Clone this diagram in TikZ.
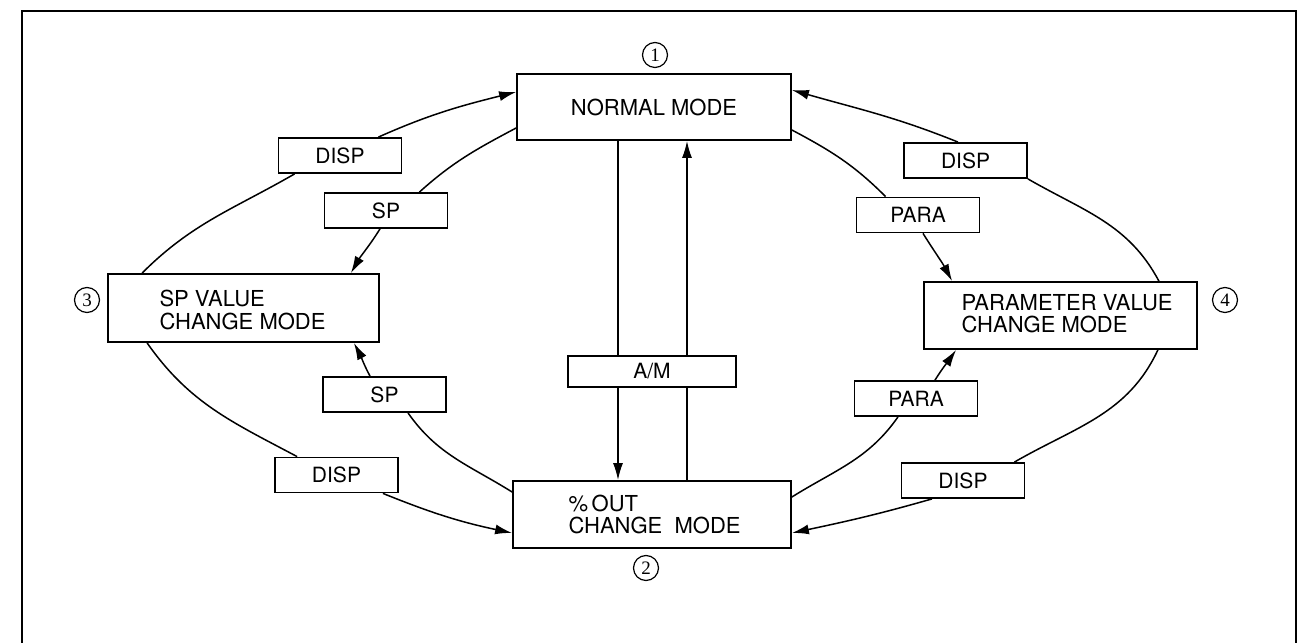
\documentclass[tikz,border=0pt]{standalone}
\usepackage{fontspec}
\setmainfont{TeX Gyre Heros}
\newfontfamily\digitfont{Liberation Serif}
\usetikzlibrary{arrows.meta}
\tikzset{
  modebox/.style={draw, line width=0.9pt, fill=white, inner sep=0pt},
  keybox/.style={draw, line width=0.9pt, fill=white, inner sep=0pt, minimum width=61.5pt, minimum height=17.5pt, font=\fontsize{10.5}{11}\selectfont},
  modetext/.style={align=left, inner sep=0pt, font=\fontsize{11}{11.2}\selectfont},
  circnum/.style={circle, draw, line width=0.6pt, minimum size=12.5pt, inner sep=0pt, font=\digitfont\fontsize{9.5}{9.5}\selectfont},
  conn/.style={line width=0.75pt},
  arr/.style={line width=0.75pt, -{Latex[length=8.5pt,width=5pt]}},
  frame/.style={line width=1.1pt}
}
\begin{document}
\begin{tikzpicture}[x=0.5pt,y=0.5pt]
\useasboundingbox (0,0) rectangle (1308,643);
% frame
\coordinate (fbl) at (22,-10);
\coordinate (ftl) at (22,632);
\coordinate (ftr) at (1296,632);
\coordinate (fbr) at (1296,-10);
\draw[frame] (fbl) -- (ftl) -- (ftr) -- (fbr);

% mode boxes
\node[modebox, minimum width=137pt, minimum height=33pt, font=\fontsize{11}{11}\selectfont] (normal) at (654,536) {NORMAL MODE};
\node[modebox, minimum width=135.5pt, minimum height=34pt] (spv) at (243.5,335) {};
\node[modetext, anchor=west] (spvt) at ([xshift=26pt,yshift=-1pt]spv.west) {SP VALUE\\CHANGE MODE};
\node[modebox, minimum width=136.5pt, minimum height=33.5pt] (param) at (1060.5,327.5) {};
\node[modetext, anchor=west] (paramt) at ([xshift=19pt,yshift=1pt]param.west) {PARAMETER VALUE\\CHANGE MODE};
\node[modebox, minimum width=139pt, minimum height=33.5pt] (pout) at (652,128.5) {};
\node[modetext, anchor=west] (poutt) at ([xshift=28pt]pout.west) {\%\,OUT\\CHANGE\ \ MODE};

% circled numbers
\node[circnum] (n1) at (655,588) {1};
\node[circnum] (n2) at (646,75) {2};
\node[circnum] (n3) at (87,343) {3};
\node[circnum] (n4) at (1225,343) {4};

% vertical A/M connectors
\draw[arr] ([xshift=-18pt]normal.south) -- ([xshift=-18pt]normal.south |- pout.north);
\draw[arr] ([xshift=16.5pt]normal.south |- pout.north) -- ([xshift=16.5pt]normal.south);

% key boxes
\node[keybox] (d1) at (340,487.5) {DISP};
\node[keybox] (s1) at (386,432.5) {SP};
\node[keybox] (d2) at (965.5,482.5) {DISP};
\node[keybox] (p1) at (918,428) {PARA};
\node[keybox, minimum width=84pt, minimum height=15.5pt] (am) at (652,271.5) {A/M};
\node[keybox] (s2) at (384.5,248.5) {SP};
\node[keybox] (d3) at (336.5,168) {DISP};
\node[keybox] (p2) at (916,244.5) {PARA};
\node[keybox] (d4) at (963,162.5) {DISP};

% outer left top (DISP: spv -> normal)
\draw[conn] ([xshift=17.5pt]spv.north west) to[out=45,in=210] ([xshift=8.5pt]d1.south west);
\draw[arr] ([xshift=-12pt]d1.north east) to[out=24,in=194] ([yshift=7.5pt]normal.west);
% inner left top (SP: normal -> spv)
\draw[conn] ([yshift=-10.5pt]normal.west) to[out=208,in=42] ([xshift=-14.5pt]s1.north east);
\draw[arr] ([xshift=-3pt]s1.south) to[out=238,in=60] ([xshift=-14.5pt]spv.north east);
% inner left bottom (SP: pout -> spv)
\draw[conn] ([yshift=11.25pt]pout.west) to[out=148,in=-55] ([xshift=11.75pt]s2.south);
\draw[arr] ([xshift=-7.25pt]s2.north) to[out=118,in=-62] ([xshift=-13pt]spv.south east);
% outer left bottom (DISP: spv -> pout)
\draw[conn] ([xshift=20pt]spv.south west) to[out=-55,in=152] ([xshift=11.5pt]d3.north west);
\draw[arr] ([xshift=-8pt]d3.south east) to[out=-22,in=168] ([yshift=-9.25pt]pout.west);

% right inner top (PARA: normal -> param)
\draw[conn] ([yshift=-11.5pt]normal.east) to[out=-28,in=135] ([xshift=15pt]p1.north west);
\draw[arr] ([xshift=2.5pt]p1.south) to[out=-58,in=118] ([xshift=14.5pt]param.north west);
% right inner bottom (PARA: pout -> param)
\draw[conn] ([yshift=8.75pt]pout.east) to[out=32,in=235] ([xshift=-9pt]p2.south);
\draw[arr] ([xshift=9.5pt]p2.north) to[out=58,in=235] ([xshift=16.5pt]param.south west);
% right outer top (DISP: param -> normal)
\draw[conn] ([xshift=-19.5pt]param.north east) to[out=118,in=-30] (d2.south east);
\draw[arr] ([xshift=-3.75pt]d2.north) to[out=158,in=-16] ([yshift=8.5pt]normal.east);
% right outer bottom (DISP: param -> pout)
\draw[conn] ([xshift=-20pt]param.south east) to[out=245,in=30] ([xshift=-5.5pt]d4.north east);
\draw[arr] ([xshift=-15.5pt]d4.south) to[out=196,in=12] ([yshift=-9.25pt]pout.east);
\end{tikzpicture}
\end{document}
